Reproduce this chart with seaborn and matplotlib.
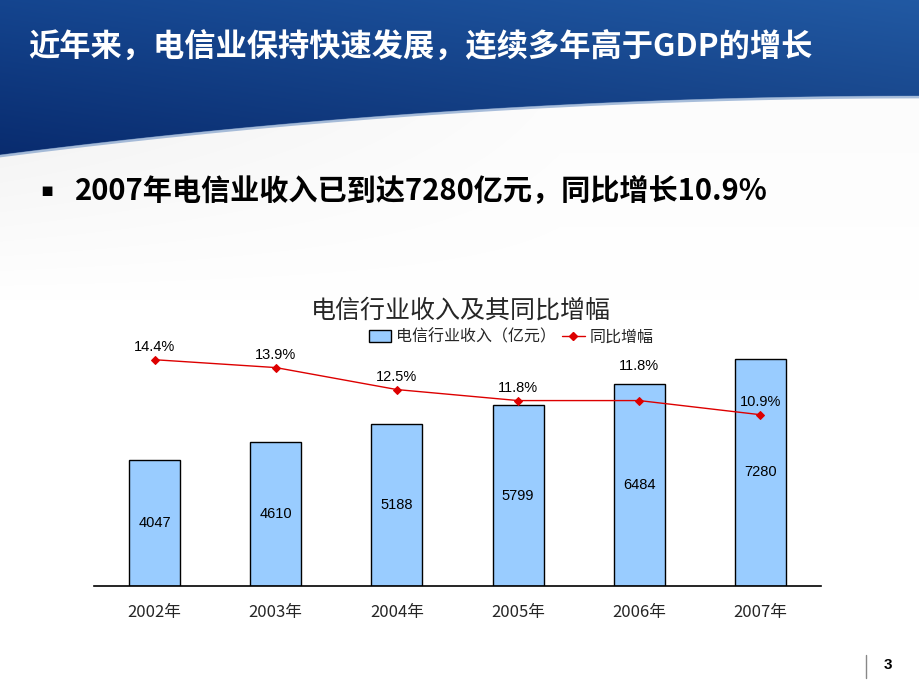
import numpy as np
import matplotlib
matplotlib.use('Agg')
import matplotlib.pyplot as plt
import seaborn as sns
from matplotlib.patches import Patch, Polygon
from matplotlib.lines import Line2D

years = ['2002年', '2003年', '2004年', '2005年', '2006年', '2007年']
revenue = [4047, 4610, 5188, 5799, 6484, 7280]
growth = [14.4, 13.9, 12.5, 11.8, 11.8, 10.9]

page_title = '近年来，电信业保持快速发展，连续多年高于GDP的增长'
bullet_text = '2007年电信业收入已到达7280亿元，同比增长10.9%'
chart_title = '电信行业收入及其同比增幅'
legend_labels = ['电信行业收入（亿元）', '同比增幅']

sns.set_theme(style='white')
plt.rcParams['font.family'] = ['Noto Sans CJK SC', 'DejaVu Sans']

W, H = 920, 690
fig = plt.figure(figsize=(W / 100, H / 100), dpi=100)
fig.patch.set_facecolor('white')

# slide background: blue banner with curved lower edge
bg = fig.add_axes([0, 0, 1, 1])
bg.set_xlim(0, W)
bg.set_ylim(H, 0)
bg.axis('off')

# faint grey band under the banner
gy, gx = np.mgrid[0:300, 0:W]
grey = 1 - 0.08 * np.clip(1 - gy / 300, 0, 1) * np.clip(1 - gx / 700, 0.2, 1)
bg.imshow(np.dstack([grey, grey, grey]), extent=(0, W, 300, 0), aspect='auto', zorder=0)

xs = np.linspace(0, W, 200)
curve = 96 + 59 * (1 - xs / W) ** 2
yy, xx = np.mgrid[0:170, 0:W]
t = yy / 170
r = 0.08 - 0.05 * t + 0.05 * (xx / W)
g = 0.27 - 0.11 * t + 0.08 * (xx / W)
b = 0.56 - 0.14 * t + 0.08 * (xx / W)
img = np.dstack([np.clip(r, 0, 1), np.clip(g, 0, 1), np.clip(b, 0, 1)])
im = bg.imshow(img, extent=(0, W, 170, 0), aspect='auto', zorder=1)
banner = Polygon(np.column_stack([np.r_[0, xs, W], np.r_[0, curve, 0]]), closed=True,
                 transform=bg.transData, facecolor='none', edgecolor='none')
bg.add_patch(banner)
im.set_clip_path(banner)
bg.plot(xs, curve + 1, color='#6f93c4', lw=2, alpha=0.6, zorder=2)

bg.text(28, 47, page_title, color='white', fontsize=22.5, fontweight='bold',
        va='center', ha='left', zorder=3)
bg.text(40, 191, '▪', color='black', fontsize=14, va='center', ha='left',
        family=['DejaVu Sans'])
bg.text(75, 191, bullet_text, color='black', fontsize=21, fontweight='bold',
        va='center', ha='left')
bg.plot([866, 866], [655, 678], color='#888888', lw=1)
bg.text(888, 665, '3', color='black', fontsize=11, fontweight='bold',
        family=['Liberation Sans'], va='center', ha='center')

# chart
ymax = 8000
px_per_unit = 227 / 7280
ax_h = ymax * px_per_unit
ax = fig.add_axes([94 / W, (H - 586) / H, 727 / W, ax_h / H])
ax.patch.set_alpha(0)

sns.barplot(x=years, y=revenue, color='#99ccff', edgecolor='black', linewidth=1,
            width=0.42, saturation=1, ax=ax)
ax.set_ylim(0, ymax)
ax.set_xlim(-0.5, 5.5)
ax.set_xlabel('')
ax.set_ylabel('')
ax.set_yticks([])
for s in ['left', 'right', 'top']:
    ax.spines[s].set_visible(False)
ax.spines['bottom'].set_color('black')
ax.spines['bottom'].set_linewidth(1.2)
ax.tick_params(axis='x', which='major', length=0, pad=13, labelsize=12)
ax.set_xticks(np.arange(-0.5, 5.0, 1), minor=True)
ax.tick_params(axis='x', which='minor', direction='in', length=3, width=1, color='black')

for i, v in enumerate(revenue):
    ax.text(i, v / 2, str(v), ha='center', va='center', fontsize=10.5,
            family=['Liberation Sans'], color='black')

ax2 = ax.twinx()
px_per_pct = 55 / 3.5
ax2.set_ylim(0, ax_h / px_per_pct)
sns.lineplot(x=np.arange(len(growth)), y=growth, ax=ax2, color='#dd0000', lw=1,
             marker='D', markersize=4, markeredgecolor='#dd0000', legend=False)
ax2.set_xlim(-0.5, 5.5)
ax2.set_yticks([])
ax2.set_ylabel('')
for s in ['left', 'right', 'top', 'bottom']:
    ax2.spines[s].set_visible(False)

for i, p in enumerate(growth):
    pt_y = p * px_per_pct
    bar_y = revenue[i] * px_per_unit
    base = pt_y
    if 0 < bar_y - pt_y < 30:
        base = bar_y + 5
    ax2.annotate(f'{p}%', (i, base / px_per_pct), xytext=(0, 9),
                 textcoords='offset points', ha='center', va='center',
                 fontsize=10.5, family=['Liberation Sans'], color='black')

fig.text(461 / W, 1 - 311 / H, chart_title, ha='center', va='center', fontsize=18)
handles = [Patch(facecolor='#99ccff', edgecolor='black', linewidth=1),
           Line2D([0], [0], color='#dd0000', lw=1, marker='D', markersize=4)]
fig.legend(handles, legend_labels, loc='center', bbox_to_anchor=(511 / W, 1 - 337 / H),
           ncol=2, frameon=False, fontsize=11.5, handlelength=1.4, handleheight=0.8,
           columnspacing=0.4, handletextpad=0.3)

fig.savefig('out.png', dpi=100)
